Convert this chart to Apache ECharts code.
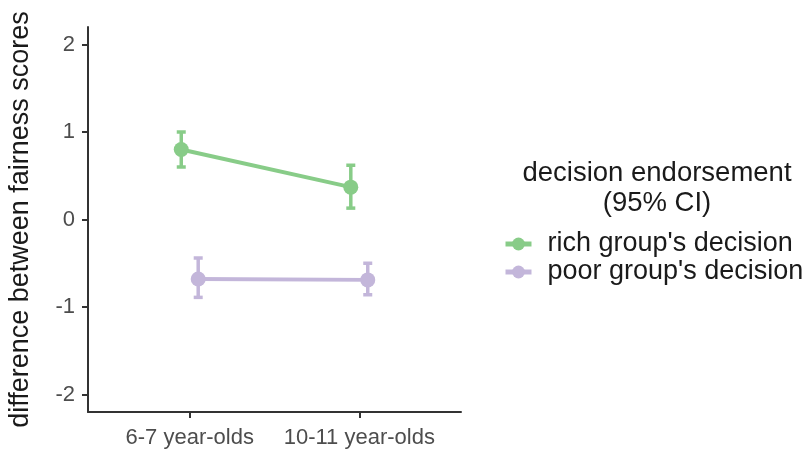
<!DOCTYPE html>
<html><head><meta charset="utf-8">
<script src="https://cdn.jsdelivr.net/npm/echarts@6/dist/echarts.min.js"></script>
<style>html,body{margin:0;padding:0;background:#fff}#c{width:806px;height:452px}</style>
</head><body><div id="c"></div>
<script>
const categories = ["6-7 year-olds", "10-11 year-olds"];
const seriesNames = ["rich group's decision", "poor group's decision"];
const richMean = [0.80, 0.37];
const richLower = [0.60, 0.13];
const richUpper = [1.00, 0.62];
const poorMean = [-0.68, -0.69];
const poorLower = [-0.89, -0.86];
const poorUpper = [-0.44, -0.50];
const yTicks = [-2, -1, 0, 1, 2];
const colors = ["#88cc88", "#c3b6da"];

const dodge = 0.05;
const FONT = "Liberation Sans, Arial, sans-serif";
function pts(mean, off){ return mean.map((v,i)=>[i+1+off, v]); }
function errs(lo, hi, off){ return lo.map((v,i)=>[i+1+off, v, hi[i]]); }
function errSeries(name, data, color){
  return {
    type:'custom', name:name + ' CI', data:data, z:3, silent:true,
    itemStyle:{color:color},
    encode:{x:0, y:[1,2]},
    renderItem:function(params, api){
      const x = api.value(0);
      const p1 = api.coord([x, api.value(1)]);
      const p2 = api.coord([x, api.value(2)]);
      const hw = 4.5;
      const st = {stroke:color, lineWidth:3.5};
      return {type:'group', children:[
        {type:'line', shape:{x1:p1[0],y1:p1[1],x2:p2[0],y2:p2[1]}, style:st},
        {type:'line', shape:{x1:p1[0]-hw,y1:p1[1],x2:p1[0]+hw,y2:p1[1]}, style:st},
        {type:'line', shape:{x1:p2[0]-hw,y1:p2[1],x2:p2[0]+hw,y2:p2[1]}, style:st}
      ]};
    }
  };
}
function lineSeries(name, data, color){
  return {type:'line', name:name, data:data, z:4, symbol:'circle', symbolSize:15,
    itemStyle:{color:color}, lineStyle:{color:color, width:4}};
}
const chart = echarts.init(document.getElementById('c'), null, {renderer:'canvas'});
chart.setOption({
  animation:false,
  backgroundColor:'#fff',
  grid:{left:88, right:345, top:27, bottom:40, containLabel:false},
  title:{text:'decision endorsement\n(95% CI)', left:652, top:153, textAlign:'center',
    textStyle:{fontFamily:FONT, fontSize:27.5, fontWeight:'normal', color:'#1a1a1a', lineHeight:30}},
  legend:{data:seriesNames, orient:'vertical', left:498, top:225, itemWidth:26, itemHeight:16, itemGap:0,
    lineStyle:{width:5},
    textStyle:{fontFamily:FONT, fontSize:27, color:'#1a1a1a', lineHeight:28, padding:[0,0,0,11]}},
  xAxis:{type:'value', min:0.4, max:2.6,
    axisLine:{show:true, onZero:false, lineStyle:{color:'#333', width:2}},
    axisTick:{show:true, length:6, lineStyle:{color:'#333', width:2}, customValues:[1,2]},
    axisLabel:{customValues:[1,2], formatter:v=>categories[Math.round(v)-1], fontFamily:FONT, fontSize:22, color:'#4d4d4d', margin:15},
    splitLine:{show:false}},
  yAxis:{type:'value', min:-2.2, max:2.2,
    name:'difference between fairness scores', nameLocation:'middle', nameGap:54, nameRotate:90,
    nameTextStyle:{fontFamily:FONT, fontSize:27, color:'#1a1a1a'},
    axisLine:{show:true, lineStyle:{color:'#333', width:2}},
    axisTick:{show:true, length:6, lineStyle:{color:'#333', width:2}, customValues:yTicks},
    axisLabel:{customValues:yTicks, fontFamily:FONT, fontSize:22, color:'#4d4d4d', margin:13},
    splitLine:{show:false}},
  series:[
    lineSeries(seriesNames[0], pts(richMean, -dodge), colors[0]),
    lineSeries(seriesNames[1], pts(poorMean, dodge), colors[1]),
    errSeries(seriesNames[0], errs(richLower, richUpper, -dodge), colors[0]),
    errSeries(seriesNames[1], errs(poorLower, poorUpper, dodge), colors[1])
  ]
});
</script></body></html>
